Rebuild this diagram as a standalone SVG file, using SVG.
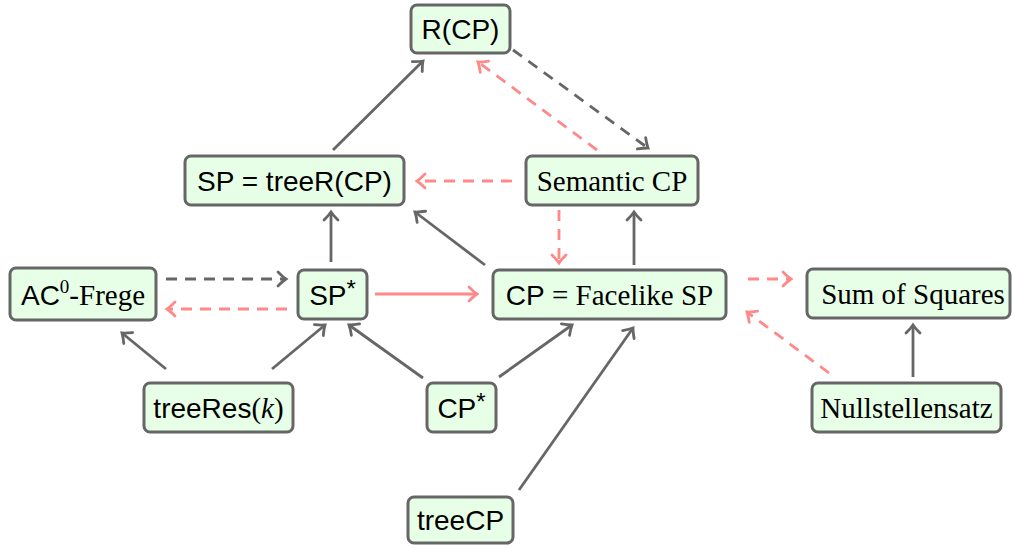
<svg xmlns="http://www.w3.org/2000/svg" width="1012" height="548" viewBox="0 0 1012 548">
<style>
.box{fill:#e6ffe6;stroke:#666;stroke-width:3}
.t{text-anchor:middle;fill:#000}
.sf{font-family:"Liberation Sans",Arial,sans-serif;font-size:28px}
.rm{font-family:"Liberation Serif","Times New Roman",serif;font-size:29px}
.g{stroke:#666;stroke-width:2.8;fill:none;marker-end:url(#ag)}
.p{stroke:#ff8888;stroke-width:2.8;fill:none;marker-end:url(#ap)}
.d{stroke-dasharray:11 8}
</style>
<defs>
<marker id="ag" markerUnits="userSpaceOnUse" viewBox="-10 -8 12 16" markerWidth="12" markerHeight="16" refX="0" refY="0" orient="auto" overflow="visible">
<path d="M-8,-7 Q-3,-2 0,0 Q-3,2 -8,7" fill="none" stroke="#666" stroke-width="2.8" stroke-linecap="round"/>
</marker>
<marker id="ap" markerUnits="userSpaceOnUse" viewBox="-10 -8 12 16" markerWidth="12" markerHeight="16" refX="0" refY="0" orient="auto" overflow="visible">
<path d="M-8,-7 Q-3,-2 0,0 Q-3,2 -8,7" fill="none" stroke="#ff8888" stroke-width="2.8" stroke-linecap="round"/>
</marker>
</defs>
<g id="connectors">
<path class="g" d="M333,150 L423,61"/>
<path class="g d" d="M513,50 L648,148"/>
<path class="p d" d="M597,150 L478,62"/>
<path class="p d" d="M512,181 L417,181"/>
<path class="g" d="M485,265 L415,212"/>
<path class="p d" d="M559,210 L559,263"/>
<path class="g" d="M634,265 L634,212"/>
<path class="g" d="M331,262 L331,212"/>
<path class="g d" d="M166,279 L286,279"/>
<path class="p d" d="M287,309 L167,309"/>
<path class="p" d="M375,294 L477,294"/>
<path class="g" d="M166,369 L122,333"/>
<path class="g" d="M272,369 L325,325"/>
<path class="g" d="M423,378 L349,325"/>
<path class="g" d="M499,377 L572,325"/>
<path class="g" d="M519,490 L633,328"/>
<path class="p d" d="M748,279 L791,279"/>
<path class="p d" d="M829,373 L747,312"/>
<path class="g" d="M913,377 L913,325"/>
</g>
<g id="rcp"><rect class="box" x="411" y="5" width="99" height="48" rx="6"/><text class="t sf" x="460.5" y="39">R(CP)</text></g>
<g id="sptreer"><rect class="box" x="185" y="156" width="219" height="49" rx="6"/><text class="t sf" x="294.5" y="190.5">SP = treeR(CP)</text></g>
<g id="semcp"><rect class="box" x="526" y="156" width="172" height="49" rx="6"/><text class="t rm" x="612" y="191">Semantic CP</text></g>
<g id="ac0"><rect class="box" x="10" y="268" width="146" height="52" rx="6"/><text class="t" x="83" y="305"><tspan class="sf">AC</tspan><tspan class="rm" style="font-size:19px" dy="-12">0</tspan><tspan class="rm" dy="12">-Frege</tspan></text></g>
<g id="spstar"><rect class="box" x="298" y="270" width="69" height="49" rx="6"/><text class="t" x="332.5" y="305"><tspan class="sf">SP</tspan><tspan class="sf" style="font-size:24px" dy="-8">*</tspan></text></g>
<g id="cpface"><rect class="box" x="493" y="270" width="233" height="49" rx="6"/><text class="t" x="609.5" y="305"><tspan class="sf">CP</tspan><tspan class="rm"> = Facelike SP</tspan></text></g>
<g id="sos"><rect class="box" x="807" y="269" width="203" height="49" rx="6"/><text class="t rm" x="913" y="304">Sum of Squares</text></g>
<g id="treeres"><rect class="box" x="144" y="383" width="149" height="49" rx="6"/><text class="t" x="218.5" y="418"><tspan class="sf">treeRes</tspan><tspan class="rm">(</tspan><tspan class="rm" font-style="italic">k</tspan><tspan class="rm">)</tspan></text></g>
<g id="cpstar"><rect class="box" x="427" y="383" width="69" height="49" rx="6"/><text class="t" x="461.5" y="418"><tspan class="sf">CP</tspan><tspan class="sf" style="font-size:24px" dy="-8">*</tspan></text></g>
<g id="nss"><rect class="box" x="812" y="383" width="189" height="49" rx="6"/><text class="t rm" x="906.5" y="418">Nullstellensatz</text></g>
<g id="treecp"><rect class="box" x="408" y="497" width="105" height="46" rx="6"/><text class="t sf" x="460.5" y="530">treeCP</text></g>
</svg>
